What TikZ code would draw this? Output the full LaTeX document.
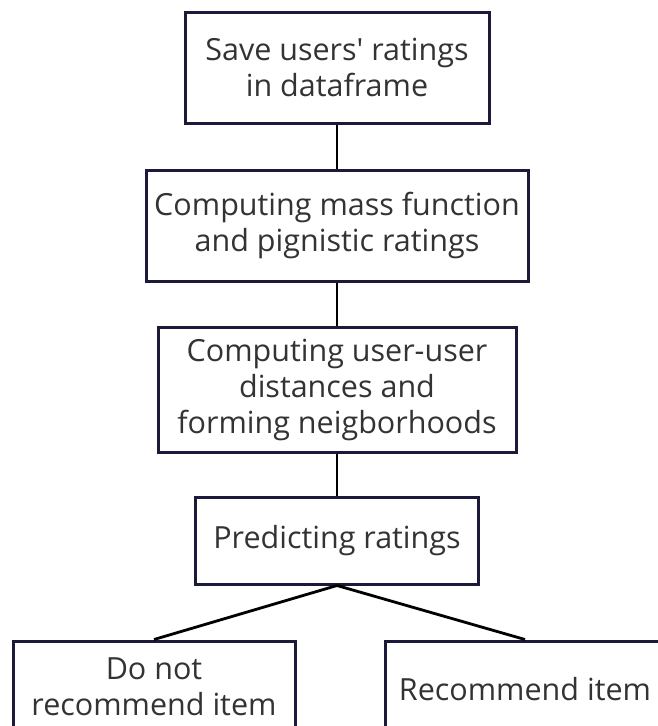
\documentclass[tikz,border=0pt]{standalone}
\usepackage{fontspec}
\newfontfamily\osans{Open Sans}
\begin{document}
\begin{tikzpicture}[x=1pt,y=-1pt,
  box/.style={draw=boxcol,line width=3pt,rectangle,inner sep=0pt,align=center,text=txtcol,
    font=\osans\fontsize{30.5}{36}\selectfont},
  conn/.style={draw=black,line width=2.8pt}]
\definecolor{boxcol}{HTML}{1C1A3A}
\definecolor{txtcol}{HTML}{333333}
\useasboundingbox (0,0) rectangle (658,726);
\clip (0,0) rectangle (658,726);
\node[box,minimum width=304pt,minimum height=111pt] (b1) at (337,67.5) {Save users' ratings\\in dataframe};
\node[box,minimum width=382pt,minimum height=111pt] (b2) at (337,225.5) {Computing mass function\\and pignistic ratings};
\node[box,minimum width=358pt,minimum height=125pt] (b3) at (337,389.5) {Computing user-user\\distances and\\forming neigborhoods};
\node[box,minimum width=283pt,minimum height=87pt] (b4) at (337,540.5) {Predicting ratings};
\node[box,minimum width=282pt,minimum height=92pt] (b5) at (154,687) {Do not\\recommend item};
\node[box,minimum width=280pt,minimum height=96pt] (b6) at (525,689) {Recommend item};
\draw[conn] (b1.south) -- (b2.north);
\draw[conn] (b2.south) -- (b3.north);
\draw[conn] (b3.south) -- (b4.north);
\draw[conn] (b4.south) -- (b5.north);
\draw[conn] (b4.south) -- (b6.north);
\end{tikzpicture}
\end{document}
